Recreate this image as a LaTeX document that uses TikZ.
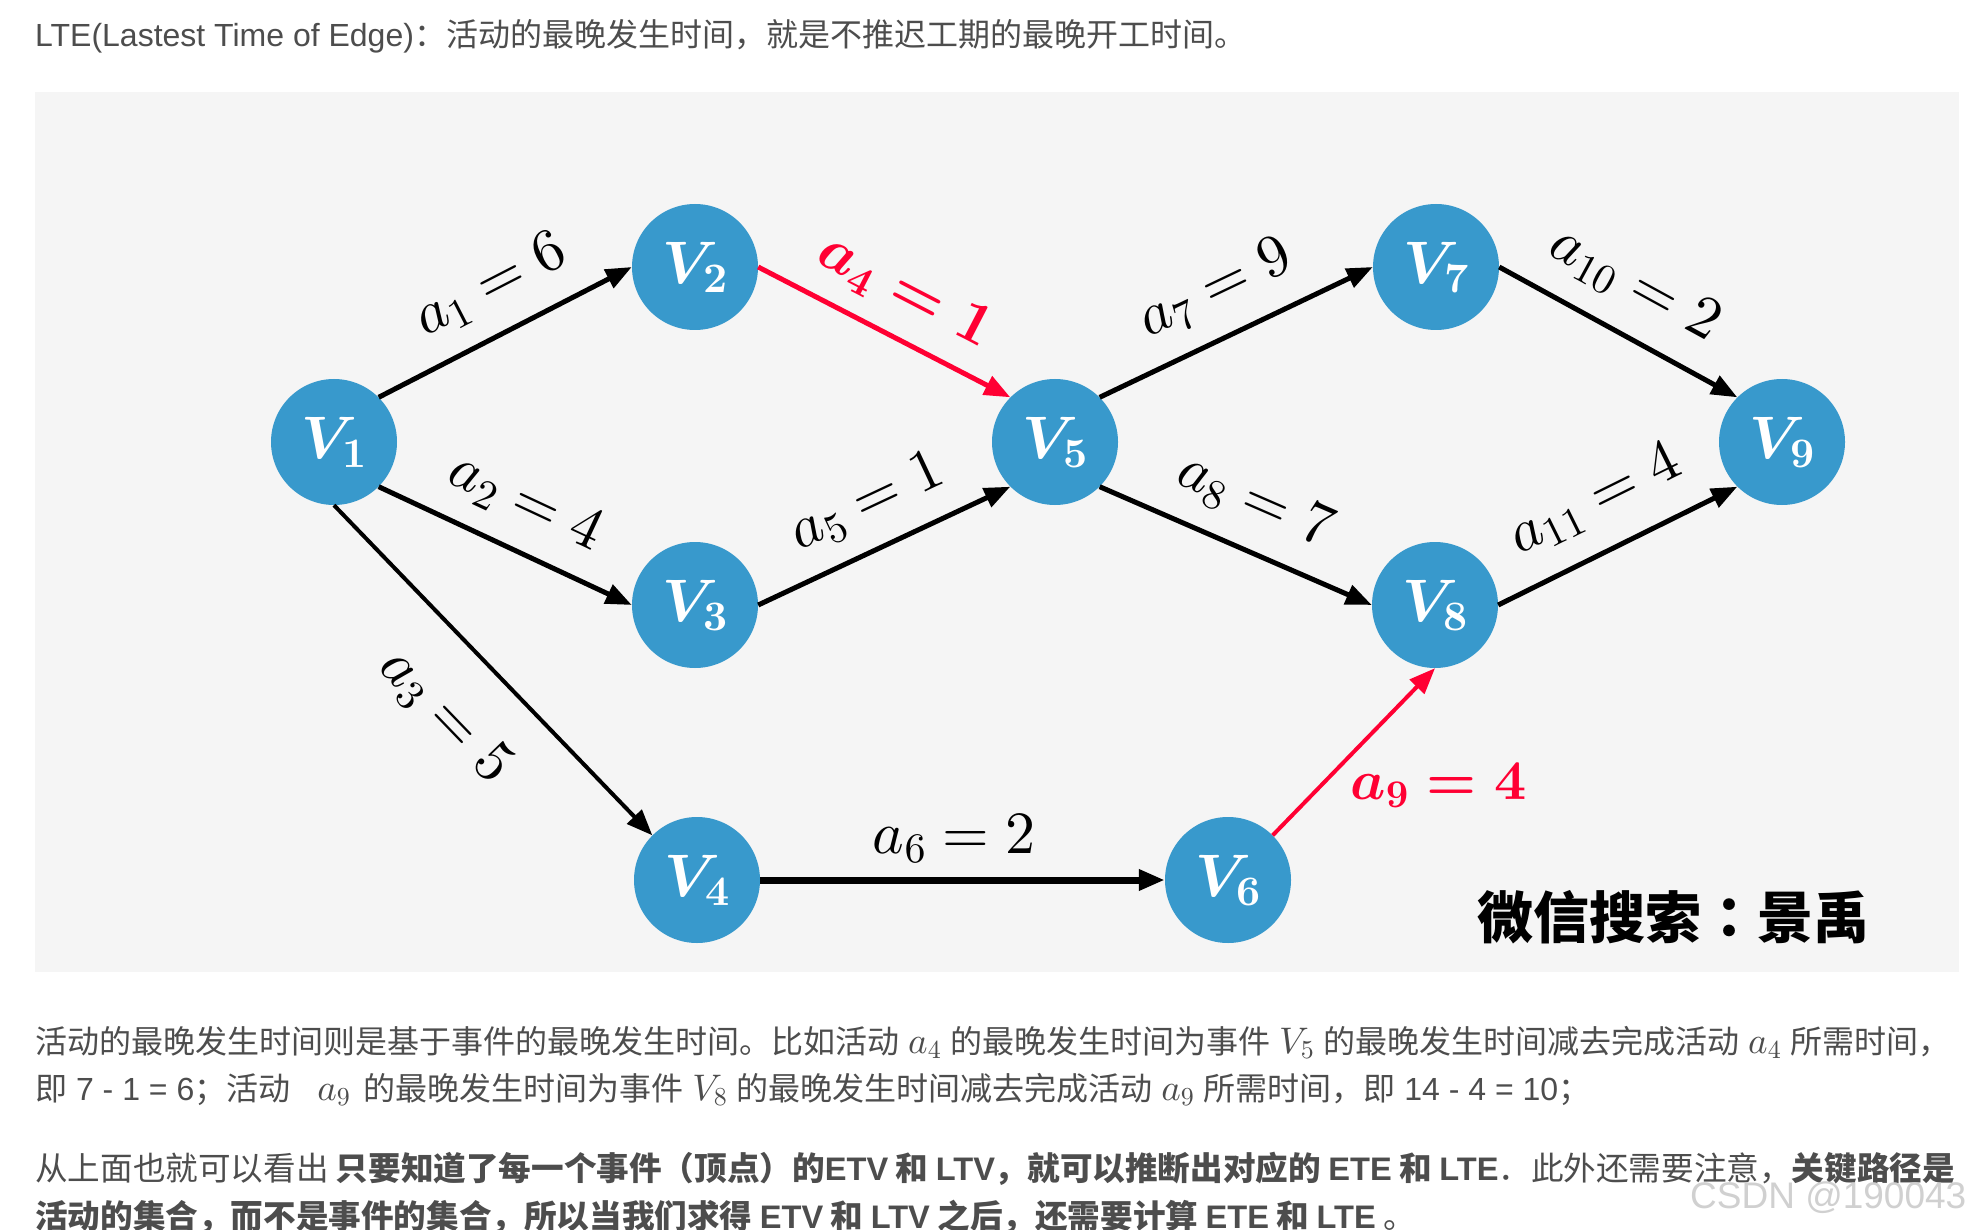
\documentclass[tikz,border=0pt]{standalone}
\usepackage[no-math]{fontspec}
\DeclareFontShape{OML}{cmm}{m}{it}{<->cmmi10}{}
\DeclareFontShape{OML}{cmm}{b}{it}{<->cmmib10}{}
\DeclareFontShape{OT1}{cmr}{m}{n}{<->cmr10}{}
\DeclareFontShape{OT1}{cmr}{bx}{n}{<->cmbx10}{}
\DeclareFontShape{OMS}{cmsy}{m}{n}{<->cmsy10}{}
\DeclareFontShape{OMS}{cmsy}{b}{n}{<->cmbsy10}{}
\DeclareFontShape{OMX}{cmex}{m}{n}{<->cmex10}{}
\setmainfont{Noto Sans CJK SC}
\newfontfamily\lat{Liberation Sans}
\newfontfamily\cjktc{Noto Sans CJK TC}
\newcommand\bmth[1]{{\boldmath$#1$}}
\newcommand\im[1]{\hspace{9pt}{\fontsize{37}{37}\selectfont$#1$}\hspace{9pt}}
\usetikzlibrary{arrows.meta}
\definecolor{nodeblue}{RGB}{56,153,204}
\definecolor{edgered}{RGB}{255,0,51}
\definecolor{panelgray}{RGB}{245,245,245}
\definecolor{txt}{RGB}{77,77,77}
\definecolor{wm}{RGB}{208,208,208}
\begin{document}
\begin{tikzpicture}[x=1pt,y=-1pt,
  vnode/.style={circle,fill=nodeblue,minimum size=126pt,inner sep=0pt,text=white,
    font=\fontsize{60}{60}\selectfont},
  edge/.style={line width=5pt,-{Triangle[length=26pt,width=20pt]}},
  rededge/.style={edge,draw=edgered},
  elabel/.style={sloped,inner sep=0pt,font=\fontsize{60}{60}\selectfont},
  para/.style={anchor=base west,inner sep=0pt,text=txt,font=\fontsize{32}{38}\selectfont}]
\useasboundingbox (0,0) rectangle (1973,1230);
\clip (0,0) rectangle (1973,1230);
\fill[white] (0,0) rectangle (1973,1230);
\fill[panelgray] (35,92) rectangle (1959,972);

\node[para,font=\fontsize{32}{36}\selectfont] (title) at (35,47)
  {{\lat LTE(Lastest Time of Edge)}：活动的最晚发生时间，就是不推迟工期的最晚开工时间。};

\node[vnode] (v1) at (334,442) {\bmth{V_1}};
\node[vnode] (v2) at (695,267) {\bmth{V_2}};
\node[vnode] (v3) at (695,605) {\bmth{V_3}};
\node[vnode] (v4) at (697,880) {\bmth{V_4}};
\node[vnode] (v5) at (1055,442) {\bmth{V_5}};
\node[vnode] (v6) at (1228,880) {\bmth{V_6}};
\node[vnode] (v7) at (1436,267) {\bmth{V_7}};
\node[vnode] (v8) at (1435,605) {\bmth{V_8}};
\node[vnode] (v9) at (1782,442) {\bmth{V_9}};

\draw[edge] (v1.45) -- node[elabel,pos=0.53,above=21pt] (l1) {$a_1 = 6$} (v2.west);
\draw[edge] (v1.-45) -- node[elabel,above=21pt] (l2) {$a_2 = 4$} (v3.west);
\draw[edge,line width=4pt] (v1.south) -- node[elabel,below=41pt] (l3) {$a_3 = 5$} (v4.135);
\draw[rededge] (v2.east) -- node[elabel,above=19pt,text=edgered] (l4) {\bmth{a_4 = 1}} (v5.135);
\draw[edge] (v3.east) -- node[elabel,pos=0.51,above=20pt] (l5) {$a_5 = 1$} (v5.225);
\draw[edge,line width=7pt] (v4.east) -- node[elabel,pos=0.48,above=14pt] (l6) {$a_6 = 2$} (v6.west);
\draw[edge] (v5.45) -- node[elabel,above=21pt] (l7) {$a_7 = 9$} (v7.west);
\draw[edge] (v5.-45) -- node[elabel,above=22pt] (l8) {$a_8 = 7$} (v8.west);
\draw[rededge,line width=4pt] (v6.45) -- node[pos=0.3,anchor=west,xshift=27pt,inner sep=0pt,
   text=edgered,font=\fontsize{56}{56}\selectfont] (l9) {\bmth{a_9 = 4}} (v8.south);
\draw[edge] (v7.east) -- node[elabel,pos=0.47,above=23pt] (l10) {$a_{10} = 2$} (v9.135);
\draw[edge] (v8.east) -- node[elabel,above=24pt] (l11) {$a_{11} = 4$} (v9.225);

\node[anchor=base west,inner sep=0pt,font=\fontsize{56}{56}\selectfont\bfseries] (sign) at (1477,938)
  {微信搜索{\cjktc ：}景禹};

\node[para] (p1) at (35,1053)
  {活动的最晚发生时间则是基于事件的最晚发生时间。比如活动\im{a_4}的最晚发生时间为事件\im{V_5}的最晚发生时间减去完成活动\im{a_4}所需时间，};
\node[para] (p2) at (35,1100)
  {即{\lat\space 7 - 1 = 6}；活动\hspace{18pt}\im{a_9}\hspace{4pt}的最晚发生时间为事件\im{V_8}的最晚发生时间减去完成活动\im{a_9}所需时间，即{\lat\space 14 - 4 = 10}；};
\node[para,font=\fontsize{32.6}{38}\selectfont] (p3) at (35,1180)
  {从上面也就可以看出 {\bfseries 只要知道了每一个事件（顶点）的{\lat ETV} 和 {\lat LTV}，就可以推断出对应的 {\lat ETE} 和 {\lat LTE}}．此外还需要注意，{\bfseries 关键路径是}};
\node[para,font=\fontsize{32.6}{38}\selectfont] (p4) at (35,1228)
  {{\bfseries 活动的集合，而不是事件的集合，所以当我们求得 {\lat ETV} 和 {\lat LTV} 之后，还需要计算 {\lat ETE} 和 {\lat LTE}} 。};

\node[anchor=base west,inner sep=0pt,text=wm,font=\lat\fontsize{37}{37}\selectfont] (wmk) at (1690,1208) {CSDN @190043};
\end{tikzpicture}
\end{document}
